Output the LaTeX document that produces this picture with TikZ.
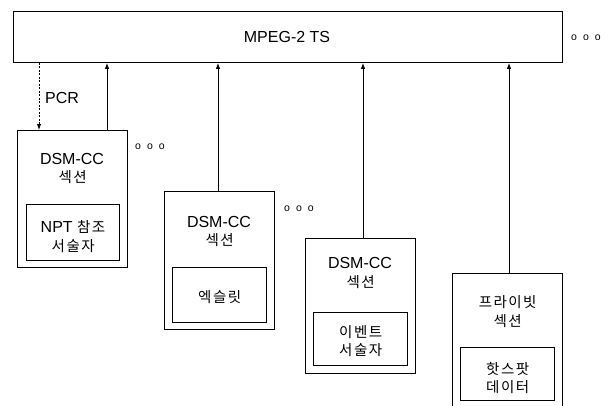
\documentclass[tikz,border=0pt]{standalone}
\usepackage{fontspec}
\setmainfont{Liberation Sans}
\newfontfamily\kr[LetterSpace=10]{Noto Sans CJK KR}
\usetikzlibrary{arrows.meta}
\tikzset{
  box/.style={draw, line width=0.9pt, anchor=north west, inner sep=0pt},
  lat/.style={inner sep=0pt, font=\fontsize{16}{16}\selectfont},
  kor/.style={inner sep=0pt, font=\kr\fontsize{14.5}{14.5}\selectfont},
  dots/.style={inner sep=0pt, font=\fontsize{10.5}{10.5}\selectfont},
  arr/.style={line width=0.9pt, -{Latex[length=6pt,width=4.5pt]}},
  darr/.style={line width=0.9pt, dash pattern=on 2pt off 1.5pt, -{Latex[length=6pt,width=4.5pt]}}
}
\newcommand{\ooo}{o\hspace{6pt}o\hspace{6pt}o}
\begin{document}
\begin{tikzpicture}[x=1pt,y=-1pt]
\useasboundingbox (0,0) rectangle (611,405);
\clip (0,0) rectangle (611,405);
% top box
\node[box, minimum width=549pt, minimum height=51pt] (ts) at (13,11) {};
\node[lat] (tstxt) at (287,37) {MPEG-2 TS};
\node[dots] (d0) at (586,38) {\ooo};
% box 1
\node[box, minimum width=110pt, minimum height=137pt] (b1) at (17,130) {};
\node[box, minimum width=93pt, minimum height=56pt] (i1) at (26,204) {};
\node[lat] (b1a) at (72,159) {DSM-CC};
\node[kor] (b1b) at (72.7,177) {섹션};
\node[inner sep=0pt] (i1a) at (73,227) {\fontsize{16}{16}\selectfont NPT \kr\fontsize{14.5}{14.5}\selectfont 참조};
\node[kor] (i1b) at (73.2,246) {서술자};
\node[dots] (d1) at (150,147) {\ooo};
% box 2
\node[box, minimum width=110pt, minimum height=138pt] (b2) at (164,191) {};
\node[box, minimum width=94pt, minimum height=55pt] (i2) at (172,267) {};
\node[lat] (b2a) at (219,222) {DSM-CC};
\node[kor] (b2b) at (219.7,240) {섹션};
\node[kor] (i2a) at (219.7,297) {엑슬릿};
\node[dots] (d2) at (299,209) {\ooo};
% box 3
\node[box, minimum width=110pt, minimum height=135pt] (b3) at (305,238) {};
\node[box, minimum width=94pt, minimum height=53pt] (i3) at (313,312) {};
\node[lat] (b3a) at (360,263) {DSM-CC};
\node[kor] (b3b) at (360.7,282) {섹션};
\node[kor] (i3a) at (360.7,332) {이벤트};
\node[kor] (i3b) at (360.7,350) {서술자};
% box 4
\node[box, minimum width=110pt, minimum height=150pt] (b4) at (452,273) {};
\node[box, minimum width=94pt, minimum height=53pt] (i4) at (460,347) {};
\node[kor] (b4a) at (507.7,302) {프라이빗};
\node[kor] (b4b) at (507.7,321) {섹션};
\node[kor] (i4a) at (507.7,369) {핫스팟};
\node[kor] (i4b) at (507.7,387) {데이터};
% connectors
\draw[darr] (ts.south -| 39,0) -- (b1.north -| 39,0);
\node[lat, anchor=west] (pcr) at (45,98) {PCR};
\draw[arr] (b1.north -| 107,0) -- (ts.south -| 107,0);
\draw[arr] (b2.north -| 218,0) -- (ts.south -| 218,0);
\draw[arr] (b3.north -| 363,0) -- (ts.south -| 363,0);
\draw[arr] (b4.north -| 509,0) -- (ts.south -| 509,0);
\end{tikzpicture}
\end{document}
